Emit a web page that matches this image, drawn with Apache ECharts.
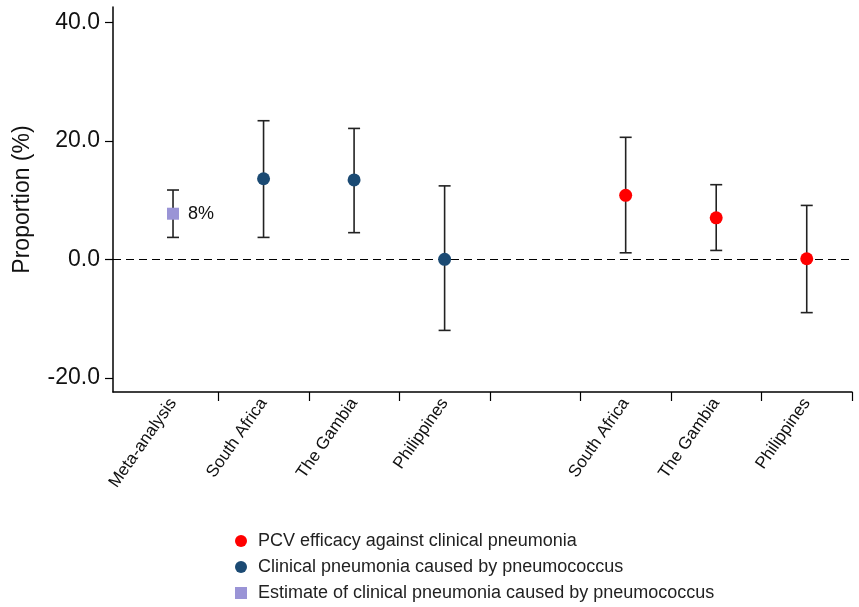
<!DOCTYPE html>
<html>
<head>
<meta charset="utf-8">
<script src="https://cdn.jsdelivr.net/npm/echarts@6/dist/echarts.min.js"></script>
<style>html,body{margin:0;padding:0;background:#fff;}#c{width:859px;height:607px;}</style>
</head>
<body>
<div id="c"></div>
<script>
const categories = ['Meta-analysis', 'South Africa', 'The Gambia', 'Philippines', '', 'South Africa', 'The Gambia', 'Philippines'];
const yTicks = [-20, 0, 20, 40];

const metaPos = [0];
const metaValue = [7.7];
const metaLow = [3.7];
const metaHigh = [11.7];

const causedPos = [1, 2, 3];
const causedValue = [13.6, 13.4, 0.0];
const causedLow = [3.7, 4.5, -12.0];
const causedHigh = [23.4, 22.1, 12.4];

const pcvPos = [5, 6, 7];
const pcvValue = [10.8, 7.0, 0.1];
const pcvLow = [1.1, 1.5, -9.0];
const pcvHigh = [20.6, 12.6, 9.1];

const seriesNames = ['PCV efficacy against clinical pneumonia', 'Clinical pneumonia caused by pneumococcus', 'Estimate of clinical pneumonia caused by pneumococcus'];

const FONT = 'Liberation Sans, Arial, Helvetica, sans-serif';

const errData = [];
[[metaPos, metaLow, metaHigh], [causedPos, causedLow, causedHigh], [pcvPos, pcvLow, pcvHigh]].forEach(([p, l, h]) => {
  p.forEach((x, i) => errData.push([x, l[i], h[i]]));
});
const pairs = (p, v) => p.map((x, i) => [x, v[i]]);

const chart = echarts.init(document.getElementById('c'), null, {renderer: 'canvas'});
chart.setOption({
  animation: false,
  textStyle: {fontFamily: FONT},
  grid: {left: 113, right: 7, top: 7, bottom: 215, containLabel: false},
  xAxis: {
    type: 'value', min: -0.663, max: 7.5,
    splitLine: {show: false},
    axisLine: {show: true, onZero: false, lineStyle: {color: '#000', width: 1.5}},
    axisTick: {show: true, length: 9, lineStyle: {color: '#000', width: 1.2}, customValues: [0.5, 1.5, 2.5, 3.5, 4.5, 5.5, 6.5, 7.5]},
    axisLabel: {
      customValues: [0, 1, 2, 3, 5, 6, 7],
      formatter: v => categories[Math.round(v)],
      rotate: 55, fontSize: 17, color: '#111', margin: 8, fontFamily: FONT
    }
  },
  yAxis: {
    type: 'value', min: -22.4, max: 42.6,
    name: 'Proportion (%)', nameLocation: 'middle', nameGap: 79,
    nameTextStyle: {fontSize: 23, color: '#111', fontFamily: FONT},
    splitLine: {show: false},
    axisLine: {show: true, onZero: false, lineStyle: {color: '#000', width: 1.5}},
    axisTick: {show: true, length: 8, lineStyle: {color: '#000', width: 1.2}, customValues: yTicks},
    axisLabel: {customValues: yTicks, formatter: v => v.toFixed(1), fontSize: 23, color: '#111', margin: 13, fontFamily: FONT}
  },
  legend: {
    orient: 'vertical', left: 230, top: 527,
    itemWidth: 12, itemHeight: 12, itemGap: 8,
    textStyle: {fontSize: 18, color: '#222', fontFamily: FONT, padding: [0, 0, 0, 6]},
    data: [
      {name: seriesNames[0], icon: 'circle'},
      {name: seriesNames[1], icon: 'circle'},
      {name: seriesNames[2], icon: 'rect'}
    ]
  },
  series: [
    {
      type: 'custom', name: 'err', z: 2, silent: true,
      data: errData,
      renderItem: (params, api) => {
        const x = api.value(0);
        const lo = api.coord([x, api.value(1)]);
        const hi = api.coord([x, api.value(2)]);
        const w = 6;
        const style = {stroke: '#222', lineWidth: 1.6};
        return {type: 'group', children: [
          {type: 'line', shape: {x1: lo[0], y1: lo[1], x2: hi[0], y2: hi[1]}, style},
          {type: 'line', shape: {x1: lo[0] - w, y1: lo[1], x2: lo[0] + w, y2: lo[1]}, style},
          {type: 'line', shape: {x1: hi[0] - w, y1: hi[1], x2: hi[0] + w, y2: hi[1]}, style}
        ]};
      },
      markLine: {
        silent: true, symbol: ['none', 'none'], label: {show: false},
        lineStyle: {color: '#000', type: [8, 5], width: 1.1},
        data: [{yAxis: 0}]
      }
    },
    {
      type: 'scatter', name: seriesNames[0], z: 5, symbol: 'circle', symbolSize: 13,
      itemStyle: {color: '#ff0000', opacity: 1},
      data: pairs(pcvPos, pcvValue)
    },
    {
      type: 'scatter', name: seriesNames[1], z: 5, symbol: 'circle', symbolSize: 13,
      itemStyle: {color: '#1b4a73', opacity: 1},
      data: pairs(causedPos, causedValue)
    },
    {
      type: 'scatter', name: seriesNames[2], z: 5, symbol: 'rect', symbolSize: 12,
      itemStyle: {color: '#9a94d6', opacity: 1},
      label: {show: true, position: 'right', distance: 9, formatter: p => Math.round(p.value[1]) + '%', fontSize: 18, color: '#111', fontFamily: FONT},
      data: pairs(metaPos, metaValue)
    }
  ]
});
</script>
</body>
</html>
